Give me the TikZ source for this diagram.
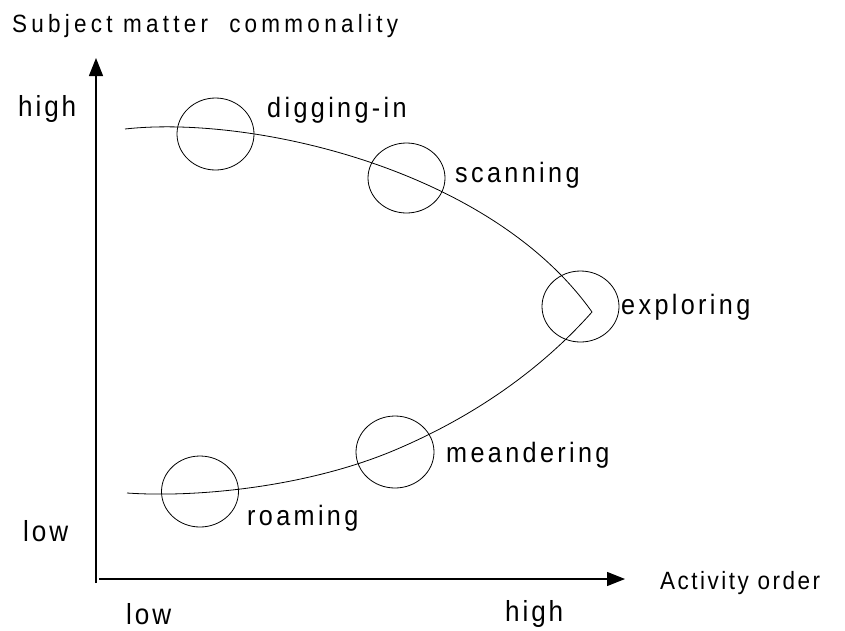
\documentclass[tikz,border=0pt]{standalone}
\usepackage{fontspec}
\setmainfont{Liberation Sans}
\newfontfamily\titlefont[FakeStretch=0.9,LetterSpace=17]{Liberation Sans}
\newfontfamily\axisfont[FakeStretch=0.9,LetterSpace=10]{Liberation Sans}
\newfontfamily\levelfont[FakeStretch=0.9,LetterSpace=10]{Liberation Sans}
\newfontfamily\stagefont[FakeStretch=0.9,LetterSpace=12]{Liberation Sans}
\usetikzlibrary{arrows.meta,shapes.geometric}
\tikzset{
  axis/.style={line width=1.2pt, -{Triangle[length=18pt,width=14pt]}},
  path curve/.style={line width=0.8pt},
  stage/.style={draw, ellipse, line width=0.8pt, inner sep=0pt},
  stagelabel/.style={anchor=base west, inner sep=0pt, font=\stagefont\fontsize{28}{32}\selectfont},
  levellabel/.style={anchor=base west, inner sep=0pt, font=\levelfont\fontsize{29}{33}\selectfont},
  axislabel/.style={anchor=base west, inner sep=0pt, font=\axisfont\fontsize{25}{29}\selectfont},
  titlelabel/.style={anchor=base west, inner sep=0pt, font=\titlefont\fontsize{25}{29}\selectfont}
}
\begin{document}
\begin{tikzpicture}[x=1pt,y=-1pt]
\useasboundingbox (0,0) rectangle (845,630);

% axes
\coordinate (yfoot) at (96,583);
\coordinate (ytip) at (96,58);
\coordinate (xfoot) at (99,579);
\coordinate (xtip) at (625,579);
\draw[axis] (yfoot) -- (ytip);
\draw[axis] (xfoot) -- (xtip);

% axis titles and levels
\node[titlelabel] (ytitle) at (12,32) {Subject matter\ \ commonality};
\node[axislabel] (xtitle) at (660,589) {Activity order};
\node[levellabel] (yhigh) at (18,116) {high};
\node[levellabel] (ylow) at (23,541) {low};
\node[levellabel] (xlow) at (126,624) {low};
\node[levellabel] (xhigh) at (505,621) {high};

% the path: upper branch out to the apex, lower branch back
\coordinate (start) at (125,129);
\coordinate (apex) at (592,312);
\coordinate (turn) at (395,450);
\coordinate (finish) at (127,493);
\draw[path curve] (start) .. controls (250,115) and (490,168) .. (apex);
\draw[path curve] (apex) .. controls (545,365) and (480,414) .. (turn)
                        .. controls (310,486) and (200,498) .. (finish);

% stages along the path
\node[stage, minimum width=77pt, minimum height=72pt] (dig) at (215.5,134) {};
\node[stage, minimum width=77pt, minimum height=70pt] (scan) at (406.5,178) {};
\node[stage, minimum width=77pt, minimum height=71pt] (expl) at (580.5,306.5) {};
\node[stage, minimum width=78pt, minimum height=72pt] (mean) at (395,452) {};
\node[stage, minimum width=77pt, minimum height=71pt] (roam) at (200,491.5) {};

\node[stagelabel] (digl) at (267,117) {digging-in};
\node[stagelabel] (scanl) at (455,182) {scanning};
\node[stagelabel] (expll) at (621,314) {exploring};
\node[stagelabel] (meanl) at (446,462) {meandering};
\node[stagelabel] (roaml) at (247,525) {roaming};
\end{tikzpicture}
\end{document}
